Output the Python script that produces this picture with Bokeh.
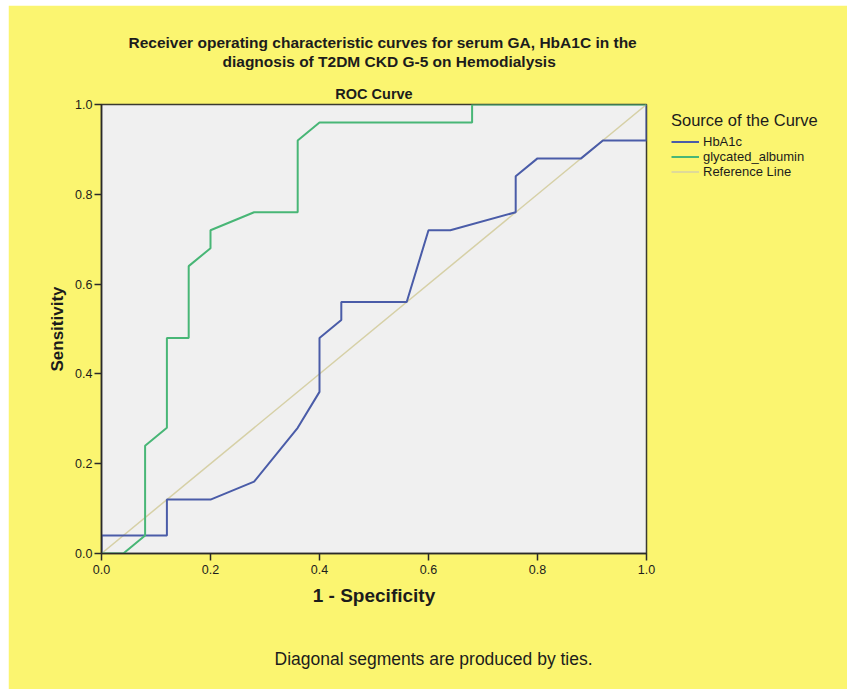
from bokeh.plotting import figure
from bokeh.models import Range1d, FixedTicker, NumeralTickFormatter, Title, Legend, LegendItem, Spacer
from bokeh.layouts import row, column
from bokeh.embed import file_html
from bokeh.resources import INLINE

# ---- data ----
hba1c_fpr = [0, 0, 0.12, 0.12, 0.20, 0.28, 0.36, 0.40, 0.40, 0.44, 0.44, 0.56, 0.60, 0.64, 0.76, 0.76, 0.80, 0.88, 0.92, 1.0, 1.0]
hba1c_tpr = [0, 0.04, 0.04, 0.12, 0.12, 0.16, 0.28, 0.36, 0.48, 0.52, 0.56, 0.56, 0.72, 0.72, 0.76, 0.84, 0.88, 0.88, 0.92, 0.92, 1.0]

ga_fpr = [0, 0.04, 0.08, 0.08, 0.12, 0.12, 0.16, 0.16, 0.20, 0.20, 0.28, 0.36, 0.36, 0.40, 0.68, 0.68, 1.0]
ga_tpr = [0, 0, 0.04, 0.24, 0.28, 0.48, 0.48, 0.64, 0.68, 0.72, 0.76, 0.76, 0.92, 0.96, 0.96, 1.0, 1.0]

ref_x = [0, 1]
ref_y = [0, 1]

ticks = [0.0, 0.2, 0.4, 0.6, 0.8, 1.0]

series_names = ["HbA1c", "glycated_albumin", "Reference Line"]
title_lines = ["Receiver operating characteristic curves  for serum GA, HbA1C in the",
               "diagnosis of T2DM CKD G-5 on Hemodialysis"]
plot_title = "ROC Curve"
footnote = "Diagonal segments are produced by ties."

FONT = "Liberation Sans"
YELLOW = "#fbf570"
TEXT = "#1c1c1c"

p = figure(frame_width=545, frame_height=449, output_backend="svg", toolbar_location=None,
           x_range=Range1d(0, 1), y_range=Range1d(0, 1),
           min_border_left=93, min_border_right=201, min_border_top=99, min_border_bottom=136)
p.background_fill_color = "#f0f0f0"
p.border_fill_color = YELLOW
p.outline_line_color = "#3a3a30"
p.outline_line_width = 1.5
p.grid.visible = False

for ax in (p.xaxis[0], p.yaxis[0]):
    ax.ticker = FixedTicker(ticks=ticks)
    ax.formatter = NumeralTickFormatter(format="0.0")
    ax.minor_tick_line_color = None
    ax.major_tick_out = 7
    ax.major_tick_in = 0
    ax.major_tick_line_color = "#2a2a2a"
    ax.major_tick_line_width = 1.5
    ax.axis_line_color = "#2a2a2a"
    ax.axis_line_width = 1.5
    ax.major_label_text_font = FONT
    ax.major_label_text_font_size = "12.5px"
    ax.major_label_text_color = TEXT
    ax.axis_label_text_font = FONT
    ax.axis_label_text_font_style = "bold"
    ax.axis_label_text_color = TEXT

p.xaxis.axis_label = "1 - Specificity"
p.xaxis.axis_label_text_font_size = "19px"
p.xaxis.major_label_standoff = 4
p.xaxis.axis_label_standoff = 8
p.yaxis.axis_label = "Sensitivity"
p.yaxis.axis_label_text_font_size = "17px"
p.yaxis.major_label_standoff = 2
p.yaxis.axis_label_standoff = 5

r_ref = p.line(ref_x, ref_y, line_color="#d6d0a6", line_width=1.5)
r_hb = p.line(hba1c_fpr, hba1c_tpr, line_color="#4a5ca8", line_width=2)
r_ga = p.line(ga_fpr, ga_tpr, line_color="#48b676", line_width=2)

legend = Legend(items=[LegendItem(label=series_names[0], renderers=[r_hb]),
                       LegendItem(label=series_names[1], renderers=[r_ga]),
                       LegendItem(label=series_names[2], renderers=[r_ref])],
                location=(25, 374), title="Source of the Curve")
legend.title_text_font = FONT
legend.title_text_font_size = "16.5px"
legend.title_text_font_style = "normal"
legend.title_text_color = TEXT
legend.title_standoff = 4
legend.label_text_font = FONT
legend.label_text_font_size = "13px"
legend.label_text_color = TEXT
legend.label_height = 13
legend.glyph_height = 13
legend.glyph_width = 28
legend.label_standoff = 4
legend.spacing = 0
legend.padding = 0
legend.margin = 0
legend.border_line_alpha = 0
legend.background_fill_alpha = 0
p.add_layout(legend, "right")

head_kw = dict(text_font=FONT, text_font_size="15.5px", text_font_style="bold", text_color=TEXT)

# outermost: first heading line (figure title)
p.title.text = title_lines[0]
p.title.align = "left"
p.title.offset = 27
p.title.standoff = 0
p.title.text_font = FONT
p.title.text_font_size = "15.5px"
p.title.text_font_style = "bold"
p.title.text_color = TEXT
# closest to the frame first
p.add_layout(Title(text=plot_title, standoff=6, align="center", text_font=FONT,
                   text_font_size="14.5px", text_font_style="bold", text_color=TEXT), "above")
p.add_layout(Title(text=title_lines[1] + "\n", align="left", offset=121, standoff=0,
                   text_line_height=0.64, **head_kw), "above")

fn = Title(text="\n" + footnote, align="left", offset=173, standoff=36, text_font=FONT,
           text_font_size="17.5px", text_font_style="normal", text_color=TEXT)
p.add_layout(fn, "below")

layout = column(Spacer(height=5), row(Spacer(width=8), p))
open("out.html", "w").write(file_html(layout, INLINE))
